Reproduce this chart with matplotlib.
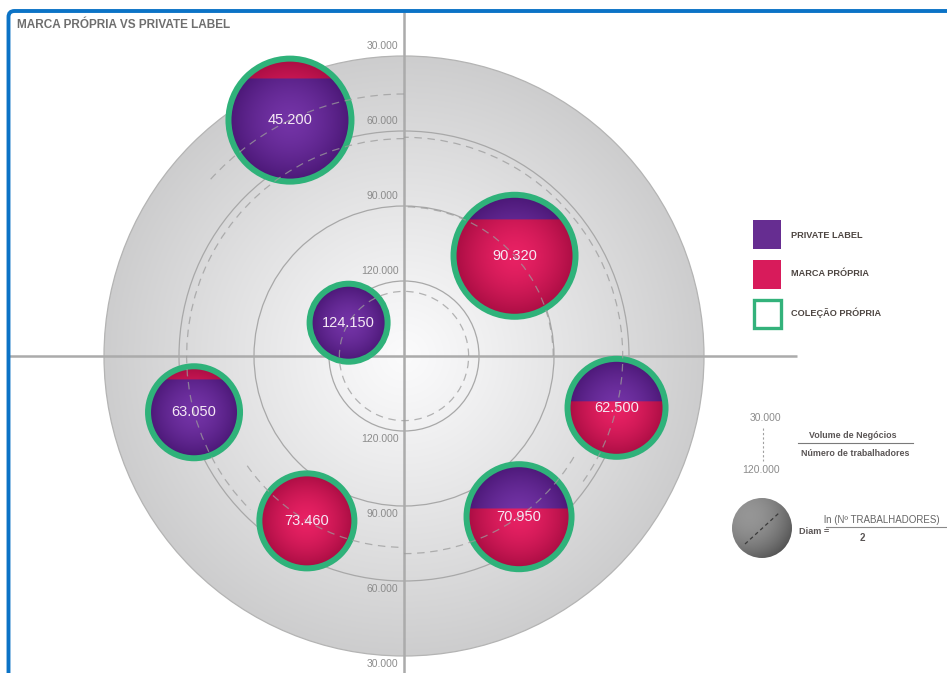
import numpy as np
import matplotlib
matplotlib.use("Agg")
import matplotlib.pyplot as plt
from matplotlib.patches import Circle, Arc, Rectangle, FancyBboxPatch

plt.rcParams['font.family'] = ['Liberation Sans', 'DejaVu Sans']

# ---------------- data ----------------
labels = ['45.200', '90.320', '124.150', '63.050', '62.500', '73.460', '70.950']
values = [45200, 90320, 124150, 63050, 62500, 73460, 70950]      # volume de negócios / nº trabalhadores
angles = [115.8, 42.2, 149.0, 195.0, -13.7, 239.5, -54.4]        # position around the centre (deg)
diameters = [5.16, 5.12, 3.36, 3.92, 4.16, 4.04, 4.44]           # ln(nº trabalhadores) / 2
private_share = [0.90, 0.14, 1.00, 0.91, 0.42, 0.00, 0.41]       # share of private label
arc_from = [90, 0, 0, 90, -35, 215, 270]                          # dashed guide arcs (deg)
arc_to = [138, 90, 360, 225, 90, 270, 330]
ring_levels = [30000, 60000, 90000, 120000]
ring_labels = ['30.000', '60.000', '90.000', '120.000']
legend_labels = ['PRIVATE LABEL', 'MARCA PRÓPRIA', 'COLEÇÃO PRÓPRIA']

# ---------------- scales ----------------
V_MAX = 150000.0          # value at the centre of the target
PX = 400.0                # data units per pixel
UNIT = 25.0 * PX          # one diameter unit in data coordinates
CX, CY = 404, 356         # centre of the target (pixels)

PURPLE = '#662d91'
PINK = '#d81b5b'
GREEN = '#2fb27a'


def radius(v):
    return V_MAX - v


def px(x, y):
    return ((x - CX) * PX, (CY - y) * PX)


def cap_height(frac):
    """Height (in radii) of a circular cap holding the given area fraction."""
    u = np.linspace(0, 2, 4001)
    a = (np.arccos(1 - u) - (1 - u) * np.sqrt(np.clip(2 * u - u ** 2, 0, None))) / np.pi
    return np.interp(frac, a, u)


fig = plt.figure(figsize=(9.47, 6.73), dpi=100)
fig.patch.set_facecolor('white')
ax = fig.add_axes([0, 0, 1, 1])
ax.axis('off')

# ---------------- target disk ----------------
R0 = radius(ring_levels[0])
n = 600
g = np.linspace(-1, 1, n)
X, Y = np.meshgrid(g, g)
Rn = np.clip(np.hypot(X, Y), 0, 1)
shade = (251 - 46 * Rn ** 1.1) / 255.0
disk_img = np.dstack([shade, shade, np.clip(shade * 1.004, 0, 1)])
im = ax.imshow(disk_img, extent=[-R0, R0, -R0, R0], origin='lower',
               interpolation='bilinear', aspect='auto', zorder=1)
im.set_clip_path(Circle((0, 0), R0, transform=ax.transData))

for i, lev in enumerate(ring_levels):
    ax.add_patch(Circle((0, 0), radius(lev), fill=False,
                        ec='#b4b4b4' if i == 0 else '#a8a8a8', lw=0.9, zorder=2))

# axes cross
ax.plot([0, 0], [px(0, 12)[1], px(0, 680)[1]], color='#ababab', lw=1.8, zorder=3,
        solid_capstyle='butt')
ax.plot([px(9, 0)[0], px(797, 0)[0]], [0, 0], color='#ababab', lw=1.8, zorder=3,
        solid_capstyle='butt')

# ring value labels
for lev, lab in zip(ring_levels, ring_labels):
    r = radius(lev)
    ax.annotate(lab, (0, r), xytext=(-4, 3.5), textcoords='offset points',
                ha='right', va='bottom', fontsize=7.5, color='#8c8c8c', zorder=4)
    ax.annotate(lab, (0, -r), xytext=(-4, -2), textcoords='offset points',
                ha='right', va='top', fontsize=7.5, color='#8c8c8c', zorder=4)

# ---------------- bubbles ----------------
purple_c = np.array([0.45, 0.20, 0.65])
purple_e = np.array([0.29, 0.09, 0.46])
pink_c = np.array([0.91, 0.13, 0.39])
pink_e = np.array([0.66, 0.05, 0.26])

nb = 240
gb = np.linspace(-1, 1, nb)
BX, BY = np.meshgrid(gb, gb)
BR = np.clip(np.hypot(BX, BY), 0, 1)
tb = (BR ** 1.6)[..., None]
purple_img = purple_c * (1 - tb) + purple_e * tb
pink_img = pink_c * (1 - tb) + pink_e * tb

ring_px = 6.0
for lab, v, ang, d, ps in zip(labels, values, angles, diameters, private_share):
    r = radius(v)
    cx = r * np.cos(np.radians(ang))
    cy = r * np.sin(np.radians(ang))
    r_out = d / 2 * UNIT
    r_in = r_out - ring_px / 2 * PX

    if ps < 0.5:
        top_img, bottom_img, frac = purple_img, pink_img, ps
    else:
        top_img, bottom_img, frac = pink_img, purple_img, 1 - ps
    h = cap_height(frac)
    mask = (BY > 1 - h)[..., None]
    img = np.where(mask, top_img, bottom_img)

    bim = ax.imshow(img, extent=[cx - r_in, cx + r_in, cy - r_in, cy + r_in],
                    origin='lower', interpolation='bilinear', aspect='auto', zorder=5)
    bim.set_clip_path(Circle((cx, cy), r_in, transform=ax.transData))
    ax.add_patch(Circle((cx, cy), r_in, fill=False, ec=GREEN, lw=ring_px * 0.72, zorder=6))
    ax.text(cx, cy, lab, ha='center', va='center', fontsize=10.5,
            color='#f5e9f5', zorder=8)

# dashed guide arcs at each bubble's value
for v, a0, a1 in zip(values, arc_from, arc_to):
    r = radius(v)
    ax.add_patch(Arc((0, 0), 2 * r, 2 * r, theta1=a0, theta2=a1, color='#9c9c9c',
                     lw=0.9, ls=(0, (6, 4.5)), alpha=0.75, zorder=7))

# ---------------- title ----------------
ax.text(*px(17, 25), 'MARCA PRÓPRIA VS PRIVATE LABEL', fontsize=8.5, fontweight='bold',
        color='#6e6e6e', ha='left', va='center', zorder=9)

# ---------------- legend ----------------
leg_y = [235, 274, 313]
ax.add_patch(Rectangle(px(753, 249), 28 * PX, 29 * PX, fc=PURPLE, ec='none', zorder=9))
ax.add_patch(Rectangle(px(753, 289), 28 * PX, 29 * PX, fc=PINK, ec='none', zorder=9))
ax.add_patch(Rectangle(px(754, 328), 27 * PX, 28 * PX, fc='white', ec='#33b27b',
                       lw=2.4, zorder=9))
for y, lab in zip(leg_y, legend_labels):
    ax.text(*px(791, y), lab, fontsize=6.6, fontweight='bold', color='#4d4541',
            ha='left', va='center', zorder=9)

# ---------------- scale note ----------------
ax.text(*px(765, 418), ring_labels[0], fontsize=7.5, color='#8c8c8c',
        ha='center', va='center', zorder=9)
ax.text(*px(761, 470), ring_labels[3], fontsize=7.5, color='#8c8c8c',
        ha='center', va='center', zorder=9)
ax.plot([px(763, 0)[0]] * 2, [px(0, 428)[1], px(0, 461)[1]], color='#a0a0a0',
        lw=0.8, ls=(0, (2, 2)), zorder=9)
ax.text(*px(853, 435), 'Volume de Negócios', fontsize=6.4, fontweight='bold',
        color='#5a5555', ha='center', va='center', zorder=9)
ax.plot([px(798, 0)[0], px(913, 0)[0]], [px(0, 443)[1]] * 2, color='#7a7a7a',
        lw=0.8, zorder=9)
ax.text(*px(855, 453), 'Número de trabalhadores', fontsize=6.4, fontweight='bold',
        color='#5a5555', ha='center', va='center', zorder=9)

# sphere glyph for the diameter rule
sc = px(762, 528)
sr = 30 * PX
ns = 200
gs = np.linspace(-1, 1, ns)
SX, SY = np.meshgrid(gs, gs)
SR = np.clip(np.hypot(SX, SY), 0, 1)
sshade = 0.55 + 0.12 * (-SX + SY) / 1.414 - 0.10 * SR ** 2
sphere_img = np.dstack([sshade, sshade, sshade])
sim = ax.imshow(np.clip(sphere_img, 0, 1),
                extent=[sc[0] - sr, sc[0] + sr, sc[1] - sr, sc[1] + sr],
                origin='lower', interpolation='bilinear', aspect='auto', zorder=9)
sim.set_clip_path(Circle(sc, sr, transform=ax.transData))
ax.plot([px(745, 0)[0], px(779, 0)[0]], [px(0, 544)[1], px(0, 513)[1]],
        color='#3a3a3a', lw=0.9, ls=(0, (3, 2.5)), zorder=10)

ax.text(*px(799, 532), 'Diam =', fontsize=6.6, fontweight='bold', color='#5a5555',
        ha='left', va='center', zorder=9)
ax.text(*px(824, 520), 'ln (Nº TRABALHADORES)', fontsize=7.0, color='#666666',
        ha='left', va='center', zorder=9)
ax.plot([px(826, 0)[0], px(946, 0)[0]], [px(0, 527)[1]] * 2, color='#8a8a8a',
        lw=0.8, zorder=9)
ax.text(*px(862, 538), '2', fontsize=7, fontweight='bold', color='#5a5555',
        ha='center', va='center', zorder=9)

# ---------------- frame ----------------
x0, y0 = px(8.5, 11)
x1, y1 = px(975, 700)
ax.add_patch(FancyBboxPatch((x0, y1), x1 - x0, y0 - y1,
                            boxstyle='round,pad=0,rounding_size=%f' % (6 * PX),
                            fill=False, ec='#0b73c6', lw=2.8, zorder=12))

ax.set_xlim(-CX * PX, (947 - CX) * PX)
ax.set_ylim(-(673 - CY) * PX, CY * PX)

fig.savefig('out.png', dpi=100, facecolor='white')
